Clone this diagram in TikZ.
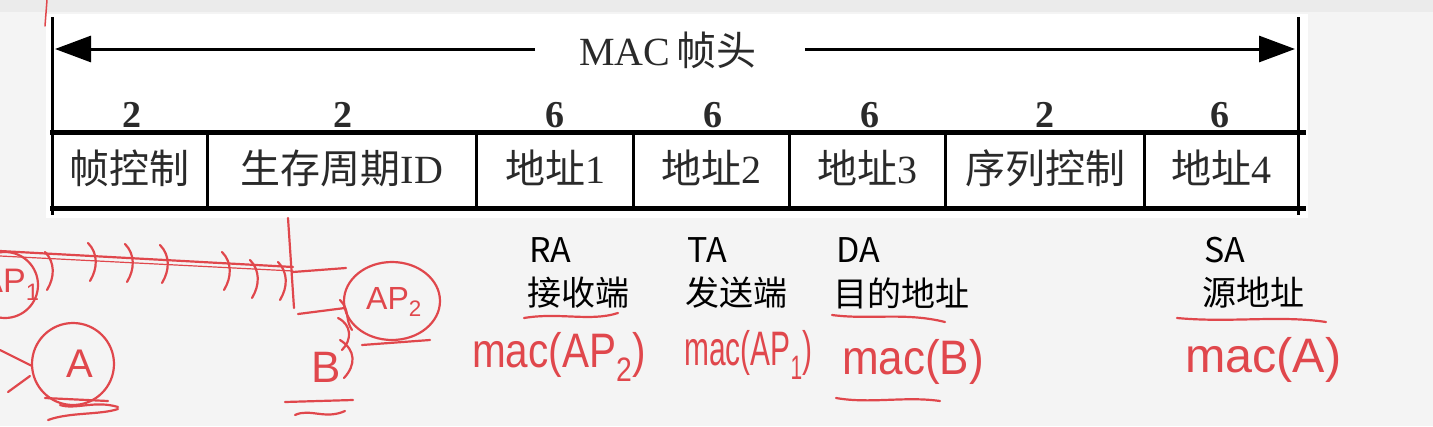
\documentclass[tikz,border=0pt]{standalone}
\usepackage{fontspec}
\usepackage{graphicx}
\setmainfont{Liberation Serif}
\newfontfamily\cjk{Noto Sans CJK SC}
\newfontfamily\hand{Liberation Sans}
\usetikzlibrary{arrows.meta,shapes.geometric}
\definecolor{bggray}{HTML}{F4F4F4}
\definecolor{topgray}{HTML}{EBEBEB}
\definecolor{inkred}{HTML}{E0474C}
\definecolor{txt}{HTML}{2A2A2A}
\tikzset{
  hline/.style={line width=5pt,black},
  vline/.style={line width=3pt,black},
  cell/.style={font=\fontsize{40}{44}\selectfont, text=txt, inner sep=0pt},
  num/.style={font=\fontsize{38}{42}\selectfont\bfseries, text=txt, inner sep=0pt},
  lab/.style={font=\fontsize{34}{38}\selectfont\cjk, text=black, inner sep=0pt, anchor=west},
  hw/.style={font=\fontsize{44}{48}\selectfont\hand, text=inkred, inner sep=0pt, anchor=west},
  inkline/.style={draw=inkred, line width=2.2pt, line cap=round, line join=round},
  dimarrow/.style={line width=3pt, -{Triangle[length=36pt,width=26pt]}}
}
\begin{document}
\begin{tikzpicture}[x=1pt,y=-1pt]
\useasboundingbox (0,0) rectangle (1433,426);
\fill[bggray] (0,0) rectangle (1433,426);
\fill[topgray] (0,0) rectangle (1433,12);
\fill[white] (46,14) rectangle (1308,218);

% frame lines
\coordinate (tl) at (52,17);  \coordinate (bl) at (52,215);
\coordinate (tr) at (1298,17); \coordinate (br) at (1298,215);
\draw[vline] (tl) -- (bl);
\draw[vline] (tr) -- (br);
\coordinate (r1l) at (50,132); \coordinate (r1r) at (1306,132);
\coordinate (r2l) at (50,208); \coordinate (r2r) at (1306,208);
\draw[hline] (r1l) -- (r1r);
\draw[hline] (r2l) -- (r2r);
\foreach \x/\n in {207/a,476/b,633/c,789/d,945/e,1144/f}{
  \coordinate (d\n t) at (\x,132); \coordinate (d\n b) at (\x,208);
  \draw[vline] (d\n t) -- (d\n b);
}

% MAC header dimension arrow
\node[font=\fontsize{40}{44}\selectfont, text=txt, inner sep=0pt] (mac) at (668,50) {MAC\,{\cjk 帧头}};
\coordinate (al) at (55,49); \coordinate (ar) at (1295,49);
\coordinate (ml) at (535,49); \coordinate (mr) at (805,49);
\draw[dimarrow] (ml) -- (al);
\draw[dimarrow] (mr) -- (ar);

% sizes
\node[num] (n1) at (132,115) {2};
\node[num] (n2) at (343,115) {2};
\node[num] (n3) at (555,115) {6};
\node[num] (n4) at (713,115) {6};
\node[num] (n5) at (870,115) {6};
\node[num] (n6) at (1045,115) {2};
\node[num] (n7) at (1220,115) {6};

% cells
\node[cell] (c1) at (129,168) {\cjk 帧控制};
\node[cell] (c2) at (342,168) {{\cjk 生存周期}ID};
\node[cell] (c3) at (555,168) {{\cjk 地址}1};
\node[cell] (c4) at (711,168) {{\cjk 地址}2};
\node[cell] (c5) at (867,168) {{\cjk 地址}3};
\node[cell] (c6) at (1045,168) {\cjk 序列控制};
\node[cell] (c7) at (1221,168) {{\cjk 地址}4};

% lower labels
\node[lab] (ra) at (529,250) {RA};
\node[lab] (rat) at (527,293) {接收端};
\node[lab] (ta) at (687,250) {TA};
\node[lab] (tat) at (685,293) {发送端};
\node[lab] (da) at (836,250) {DA};
\node[lab] (dat) at (833,293) {目的地址};
\node[lab] (sa) at (1204,250) {SA};
\node[lab] (sat) at (1202,293) {源地址};

% handwritten annotations
\node[hw] (h1) at (472,357) {\scalebox{0.92}[1.1]{mac(AP\textsubscript{2})}};
\node[hw] (h2) at (684,355) {\scalebox{0.68}[1.1]{mac(AP\textsubscript{1})}};
\node[hw] (h3) at (842,362) {\scalebox{1}[1.1]{mac(B)}};
\node[hw] (h4) at (1185,360) {\scalebox{1.1}[1.1]{mac(A)}};
\draw[inkline] (524,318) .. controls (560,312) and (590,322) .. (618,313);
\draw[inkline] (832,315) .. controls (870,320) and (905,312) .. (945,322);
\draw[inkline] (836,398) .. controls (870,404) and (905,396) .. (940,401);
\draw[inkline] (1177,318) .. controls (1230,323) and (1280,315) .. (1326,322);

% top-left tick
\draw[inkline, line width=1.5pt] (47,0) -- (45,26);

% left sketch
\node[circle, inkline, minimum size=66pt, inner sep=0pt] (ap1) at (5,285) {};
\node[font=\fontsize{34}{36}\selectfont\hand, text=inkred] at (10,285) {AP\textsubscript{1}};
\node[circle, inkline, minimum size=82pt, inner sep=0pt] (A) at (73,364) {};
\node[font=\fontsize{40}{44}\selectfont\hand, text=inkred] at (80,364) {A};
\node[ellipse, inkline, minimum width=96pt, minimum height=78pt, inner sep=0pt] (ap2) at (392,301) {};
\node[font=\fontsize{32}{36}\selectfont\hand, text=inkred] at (394,302) {AP\textsubscript{2}};
\node[font=\fontsize{44}{48}\selectfont\hand, text=inkred] (B) at (326,367) {B};

\coordinate (w0) at (0,251); \coordinate (w1) at (293,267);
\draw[inkline] (w0) -- (w1);
\draw[inkline, line width=1.2pt] (0,256) -- (293,271);
\draw[inkline] (288,218) -- (294,308);
\coordinate (bx1) at (346,268);
\draw[inkline] (bx1) -- (293,272);
\draw[inkline] (298,314) -- (345,308);
\foreach \x/\y in {45/252,88/243,125/244,160/245,222/252,250/260,278/262}{
  \draw[inkline] (\x,\y) .. controls (\x+10,\y+10) and (\x+10,\y+25) .. (\x+2,\y+38);
}
\draw[inkline] (340,300) .. controls (350,310) and (345,320) .. (352,330);
\draw[inkline] (338,318) .. controls (352,325) and (352,340) .. (342,350);
\draw[inkline] (340,340) .. controls (356,350) and (356,365) .. (344,378);
\draw[inkline] (362,345) -- (430,340);
% under A
\draw[inkline] (45,398) -- (108,401);
\draw[inkline] (60,405) .. controls (75,410) and (95,400) .. (118,407);
\draw[inkline] (48,420) .. controls (70,412) and (100,415) .. (118,409);
% under B
\draw[inkline] (285,402) -- (353,400);
\draw[inkline] (295,415) .. controls (310,408) and (325,420) .. (345,411);
% left arrow marks
\draw[inkline] (0,350) -- (32,366);
\draw[inkline] (8,392) -- (30,376);
\end{tikzpicture}
\end{document}
